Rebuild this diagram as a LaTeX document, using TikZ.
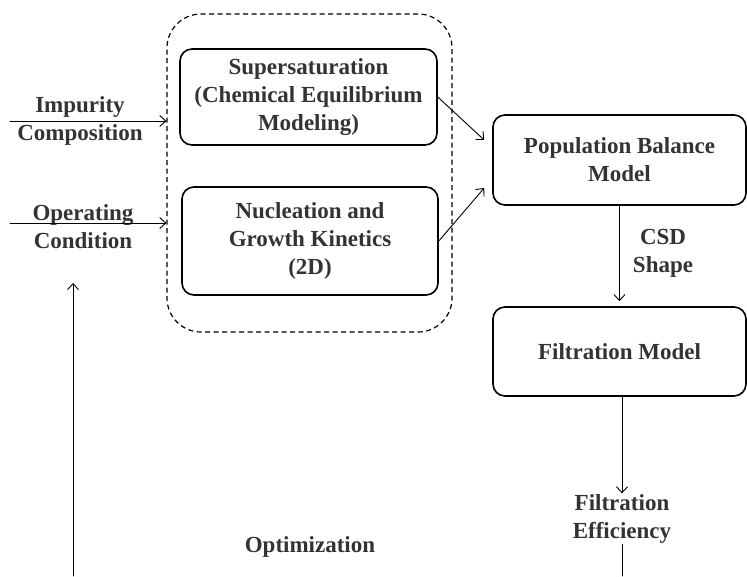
\documentclass[tikz,border=0pt]{standalone}
\usepackage{fontspec}
\setmainfont{Liberation Serif}
\usetikzlibrary{arrows.meta}
\begin{document}
\begin{tikzpicture}[x=1pt,y=-1pt,font=\fontsize{23}{28}\selectfont\bfseries,line join=round,line cap=round,>={Straight Barb[length=6pt,width=11pt]},
  box/.style={draw,line width=1.6pt,rounded corners=12pt,align=center,text=black!80},
  lbl/.style={align=center,text=black!80,inner sep=1pt},
  con/.style={->,line width=0.9pt}]
\useasboundingbox (0,0) rectangle (747,576);
% model group
\node[draw,dash pattern=on 5pt off 3.5pt,line cap=butt,line width=1.2pt,rounded corners=34pt,minimum width=285pt,minimum height=318pt] (grp) at (309.5,173) {};
\node[box,minimum width=257pt,minimum height=96pt] (sup) at (308.5,97) {Supersaturation\\(Chemical Equilibrium\\Modeling)};
\node[box,minimum width=256pt,minimum height=108pt] (nuc) at (310,241) {Nucleation and\\Growth Kinetics\\(2D)};
\node[box,minimum width=253pt,minimum height=90pt] (pbm) at (619.5,160) {Population Balance\\Model};
\node[box,minimum width=253pt,minimum height=89pt] (filt) at (619.5,351.5) {Filtration Model};
% labels
\node[lbl] (imp) at (80,121) {Impurity\\Composition};
\node[lbl] (opc) at (83,227) {Operating\\Condition};
\node[lbl] (csd) at (663,253) {CSD\\Shape};
\node[lbl] (eff) at (622,519) {Filtration\\Efficiency};
\node[lbl] (opt) at (310,547) {Optimization};
\coordinate (impin) at (10,121);
\coordinate (opcin) at (10,223);
\coordinate (optbot) at (73,576);
\coordinate (opttop) at (73,283);
\coordinate (effbot) at (622,576);
% connectors
\draw[con] (impin) -- (impin -| grp.west);
\draw[con] (opcin) -- (opcin -| grp.west);
\draw[con] (optbot) -- (opttop);
\draw[con] (sup.east) -- ([xshift=-8pt,yshift=20pt]pbm.west);
\draw[con] (nuc.east) -- ([xshift=-8pt,yshift=-28pt]pbm.west);
\draw[con] (pbm.south) -- ([yshift=5pt]filt.north);
\draw[con] (filt.south -| eff.north) -- (eff.north);
\draw[line width=0.9pt] (eff.south) -- (effbot);
\end{tikzpicture}
\end{document}
